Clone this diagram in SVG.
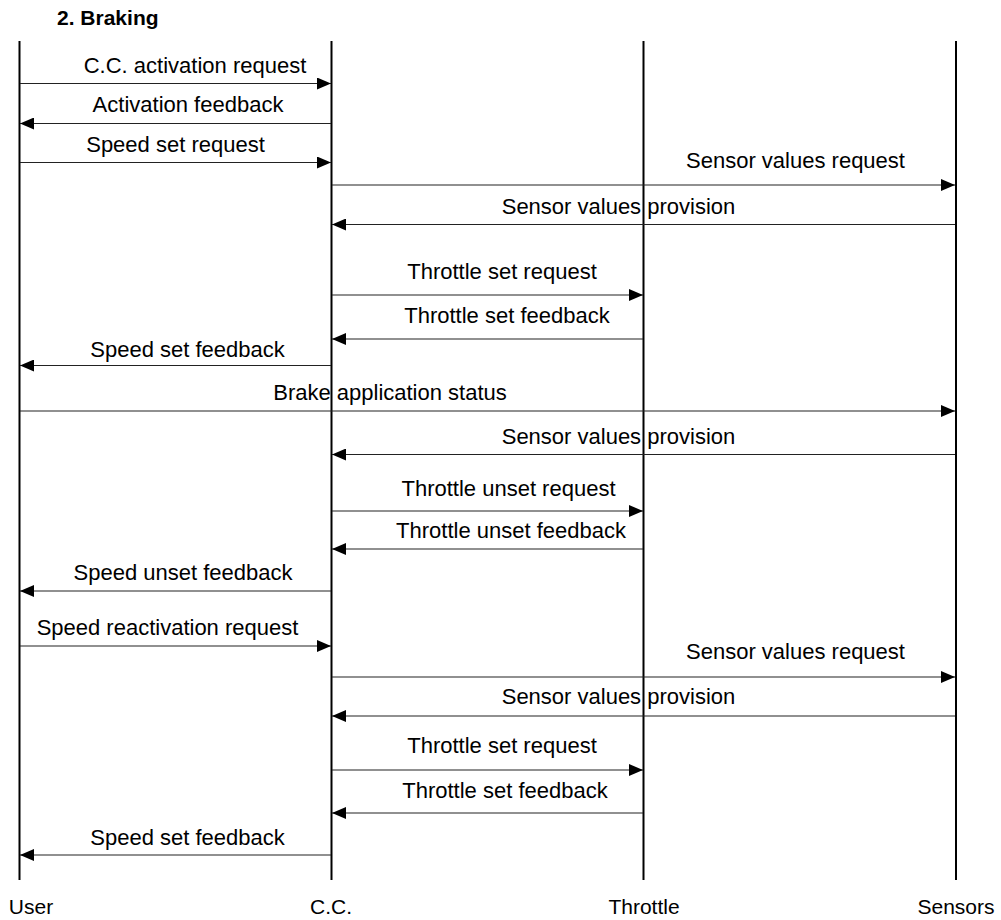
<svg xmlns="http://www.w3.org/2000/svg" width="1001" height="920" viewBox="0 0 1001 920">
  <style>
    .title { font-family: "Liberation Sans", Arial, sans-serif; font-size: 21px; font-weight: bold; fill: #000; }
    .actor { font-family: "Liberation Sans", Arial, sans-serif; font-size: 21px; fill: #000; text-anchor: middle; }
    .life { stroke: #000; stroke-width: 2; fill: none; }
    .msg { stroke: #222; stroke-width: 1.2; fill: none; marker-end: url(#head); }
    .lbl { font-family: "Liberation Sans", Arial, sans-serif; font-size: 22px; fill: #000; text-anchor: middle; }
  </style>
  <defs>
    <marker id="head" markerUnits="userSpaceOnUse" markerWidth="14" markerHeight="12" refX="14" refY="6" orient="auto">
      <path d="M0,0 L14,6 L0,12 Z" fill="#000"/>
    </marker>
  </defs>
  <rect width="1001" height="920" fill="#fff"/>
  <text class="title" x="57" y="25">2. Braking</text>

  <!-- lifelines -->
  <g id="user">
    <line class="life" x1="19.5" y1="41" x2="19.5" y2="880"/>
    <text class="actor" x="31" y="914">User</text>
  </g>
  <g id="cc">
    <line class="life" x1="331.5" y1="41" x2="331.5" y2="880"/>
    <text class="actor" x="331" y="914">C.C.</text>
  </g>
  <g id="throttle">
    <line class="life" x1="643.5" y1="41" x2="643.5" y2="880"/>
    <text class="actor" x="644" y="914">Throttle</text>
  </g>
  <g id="sensors">
    <line class="life" x1="956" y1="41" x2="956" y2="880"/>
    <text class="actor" x="956" y="914">Sensors</text>
  </g>

  <!-- messages -->
  <g id="messages">
    <line class="msg" x1="20" y1="83.5" x2="331" y2="83.5"/>
    <text class="lbl" x="195" y="73">C.C. activation request</text>

    <line class="msg" x1="331" y1="123.5" x2="20" y2="123.5"/>
    <text class="lbl" x="188" y="111.5">Activation feedback</text>

    <line class="msg" x1="20" y1="162.5" x2="331" y2="162.5"/>
    <text class="lbl" x="175.5" y="151.5">Speed set request</text>

    <line class="msg" x1="332" y1="185" x2="955" y2="185"/>
    <text class="lbl" x="795.5" y="168">Sensor values request</text>

    <line class="msg" x1="955" y1="224.5" x2="332" y2="224.5"/>
    <text class="lbl" x="618.5" y="214">Sensor values provision</text>

    <line class="msg" x1="332" y1="295" x2="643" y2="295"/>
    <text class="lbl" x="502" y="279">Throttle set request</text>

    <line class="msg" x1="643" y1="339" x2="332" y2="339"/>
    <text class="lbl" x="507" y="323">Throttle set feedback</text>

    <line class="msg" x1="331" y1="365.5" x2="20" y2="365.5"/>
    <text class="lbl" x="187.5" y="357">Speed set feedback</text>

    <line class="msg" x1="20" y1="411" x2="955" y2="411"/>
    <text class="lbl" x="390" y="400">Brake application status</text>

    <line class="msg" x1="955" y1="454.5" x2="332" y2="454.5"/>
    <text class="lbl" x="618.5" y="444">Sensor values provision</text>

    <line class="msg" x1="332" y1="511" x2="643" y2="511"/>
    <text class="lbl" x="508.5" y="496">Throttle unset request</text>

    <line class="msg" x1="643" y1="549" x2="332" y2="549"/>
    <text class="lbl" x="511" y="538">Throttle unset feedback</text>

    <line class="msg" x1="331" y1="591" x2="20" y2="591"/>
    <text class="lbl" x="183" y="580">Speed unset feedback</text>

    <line class="msg" x1="20" y1="646" x2="331" y2="646"/>
    <text class="lbl" x="167.5" y="635">Speed reactivation request</text>

    <line class="msg" x1="332" y1="677" x2="955" y2="677"/>
    <text class="lbl" x="795.5" y="659">Sensor values request</text>

    <line class="msg" x1="955" y1="716" x2="332" y2="716"/>
    <text class="lbl" x="618.5" y="704">Sensor values provision</text>

    <line class="msg" x1="332" y1="770" x2="643" y2="770"/>
    <text class="lbl" x="502" y="753">Throttle set request</text>

    <line class="msg" x1="643" y1="813" x2="332" y2="813"/>
    <text class="lbl" x="505" y="798">Throttle set feedback</text>

    <line class="msg" x1="331" y1="855" x2="20" y2="855"/>
    <text class="lbl" x="187.5" y="845">Speed set feedback</text>
  </g>
</svg>
